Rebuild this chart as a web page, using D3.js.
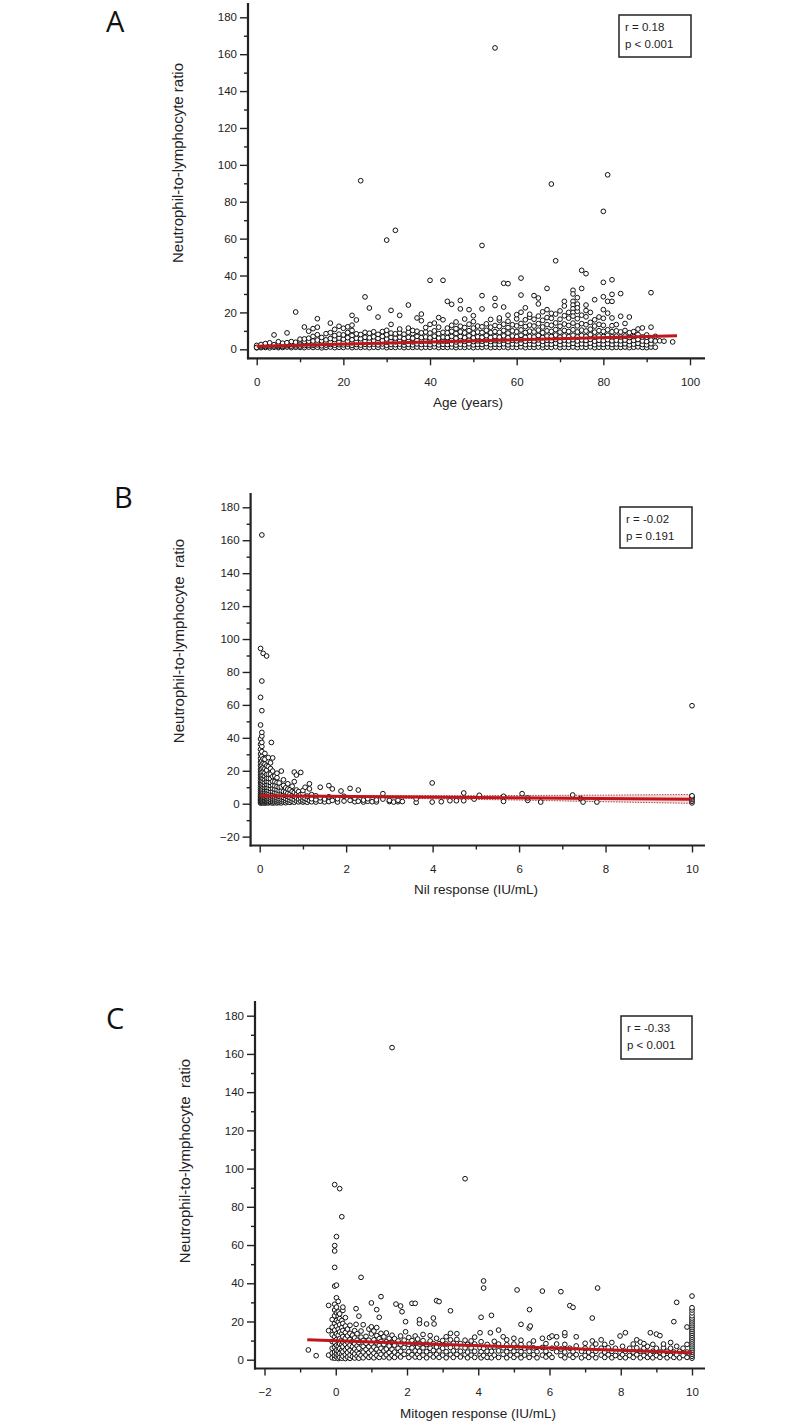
<!DOCTYPE html>
<html><head><meta charset="utf-8">
<script src="https://cdnjs.cloudflare.com/ajax/libs/d3/7.8.5/d3.min.js"></script>
<style>body{margin:0;background:#fff}svg{display:block}</style>
</head><body>
<svg id="chart" width="793" height="1425"></svg>
<script>
// ---------------- DATA ----------------
// Panel A: NLR values at each age (index = age in years)
const nlrByAge = [
[0.8,1.2,1.6,2.1,1.0],[0.9,1.4,2.0,2.6],[1.0,1.5,2.3,3.1],[0.8,1.7,2.4,3.5],[1.1,1.8,2.5,7.8],
[0.9,1.5,2.2,3.0,4.1],[1.0,1.6,2.4,3.3],[1.2,2.0,2.8,3.6,8.9],[0.9,1.7,2.6,3.4,4.2],[1.1,1.9,2.7,3.8,20.2],
[1.0,1.8,2.9,3.7,4.6,5.5],[0.9,2.0,3.1,4.2,5.6,12.1],[1.2,2.2,3.4,4.4,6.0,9.8],[1.0,2.1,3.0,4.5,7.0,11.2],[1.1,2.4,3.6,5.0,7.9,16.6,12.0],
[0.8,1.9,3.2,4.6,6.4],[1.0,2.3,3.5,5.1,8.5],[1.2,2.6,3.9,5.8,9.0,14.2],[0.9,2.2,3.7,5.3,7.4,10.8],[1.1,2.5,4.0,6.1,8.2,12.5],
[1.0,2.4,3.8,5.5,7.8,11.4],[1.3,2.8,4.3,6.3,9.1,12.2],[0.9,2.1,3.6,5.2,7.5,10.2,13.1,18.4],[1.1,2.6,4.1,6.0,8.4,15.9],[1.0,2.3,3.9,5.7,8.0,91.4],
[1.2,2.7,4.4,6.5,9.2,28.4],[0.9,2.5,4.2,6.2,8.7,22.4],[1.1,2.8,4.6,6.8,9.5],[1.0,2.4,4.0,5.9,8.1,17.5],[1.3,2.9,4.7,7.0,9.6],
[0.9,2.2,3.8,5.6,7.9,10.3,59.2],[1.1,2.6,4.3,6.4,8.8,21.1,13.5],[1.0,2.5,4.1,6.1,8.4,64.5],[1.2,2.8,4.5,6.6,9.0,18.4,11.0],[0.9,2.3,3.9,5.8,8.2],
[1.1,2.7,4.4,6.5,9.3,24.0,11.5],[1.0,2.4,4.0,6.0,8.6,10.2],[1.2,2.9,4.8,7.0,9.8,17.0],[0.9,2.6,4.3,6.3,8.9,19.1,15.5],[1.1,2.8,4.6,6.7,9.4,11.8],
[1.0,2.5,4.2,6.2,8.8,13.5,37.4],[1.3,3.0,4.9,7.1,10.0,14.2],[0.9,2.4,4.1,6.1,8.5,12.0,17.2],[1.1,2.7,4.5,6.6,9.2,37.4,16.0],[1.0,2.6,4.4,6.4,9.0,11.5,26.0],
[1.2,2.9,4.8,7.0,9.7,13.0,24.4],[0.9,2.3,4.0,6.0,8.6,11.2,14.8],[1.1,2.8,4.7,6.9,9.5,12.5,26.5,21.9],[1.0,2.5,4.3,6.3,8.9,11.8,16.4],[1.2,3.0,5.0,7.3,10.1,13.6,21.5],
[0.9,2.4,4.2,6.2,8.7,11.5,15.0,18.2],[1.1,2.7,4.6,6.8,9.4,12.6],[1.0,2.6,4.4,6.5,9.1,12.2,29.1,56.3,21.9],[1.3,3.1,5.1,7.4,10.3,13.8],[0.9,2.5,4.3,6.4,9.0,12.0,16.2],
[1.1,2.8,4.7,6.9,9.6,12.9,27.6,23.7,163.4],[1.0,2.6,4.5,6.6,9.2,12.4,15.8,17.0],[1.2,3.0,5.0,7.3,10.2,13.6,35.8,22.9],[0.9,2.4,4.2,6.3,8.8,11.8,15.2,35.6,18.5],[1.1,2.9,4.9,7.2,10.0,13.3],
[1.0,2.7,4.6,6.8,9.5,12.7,16.5,18.8],[1.3,3.2,5.2,7.6,10.5,14.0,38.6,29.4,20.1],[0.9,2.5,4.4,6.5,9.1,12.3,16.0,22.5],[1.1,2.8,4.8,7.0,9.8,13.1,17.4,19.0],[1.0,2.6,4.5,6.7,9.4,12.6,29.1,16.3],
[1.2,3.1,5.1,7.5,10.4,13.9,27.8,24.6,18.0],[0.9,2.4,4.3,6.4,9.0,12.1,15.7,20.3],[1.1,2.9,4.9,7.2,10.0,13.4,33.0,17.2,21.5],[1.0,2.7,4.7,6.9,9.7,13.0,89.6,16.8,19.5],[1.3,3.3,5.3,7.7,10.7,14.3,48.0,19.1],
[0.9,2.5,4.4,6.6,9.3,12.5,16.3,20.8],[1.1,2.9,5.0,7.3,10.2,13.7,26.0,23.5,18.2],[1.0,2.7,4.6,6.8,9.6,12.9,16.9,20.0],[1.2,3.2,5.2,7.6,10.6,14.2,32.0,30.0,26.0,24.0,22.0,20.0,18.0],[0.9,2.6,4.5,6.7,9.4,12.7,16.6,20.6,28.0,24.5,22.5],
[1.1,3.0,5.1,7.5,10.4,13.9,42.8,33.0,18.5],[1.0,2.8,4.8,7.0,9.9,13.3,41.0,24.0,21.0,17.6],[1.3,3.3,5.4,7.9,10.9,14.6,20.0],[0.9,2.5,4.4,6.6,9.3,12.6,26.9,16.0],[1.1,2.9,4.9,7.2,10.1,13.5,17.5],
[1.0,2.7,4.7,6.9,9.7,13.0,74.8,36.3,28.5,21.5,16.8],[1.2,3.1,5.2,7.6,10.6,94.6,26.0,19.6],[0.9,2.6,4.6,6.8,9.5,12.8,37.7,29.8,26.0,17.0],[1.1,2.9,4.9,7.1,10.0,13.4],[1.0,2.7,4.6,6.7,9.4,30.2,17.9],
[1.2,3.0,5.0,7.2,10.2,14.0],[0.9,2.4,4.3,6.4,9.0,17.5],[1.1,2.8,4.8,6.9,9.6],[1.3,3.2,5.3,8.0,11.0],[1.0,2.6,4.5,6.7,11.6],
[0.9,2.4,4.2,6.6,7.8],[1.2,3.0,5.0,12.0,30.7],[1.1,4.5,7.0],[4.6],[4.4],[],[4.0],[]
];
const ageFit = [[0, 1.6], [97, 7.3]];

// Panel B: [Nil response (IU/mL), NLR values]
const nilColumns = [
[0.02,[0.4,1.0,1.8,2.6,3.4,4.3,5.2,6.1,7.3,8.5,9.8,11.2,12.6,14.1,15.7,17.4,19.2,21.0,23.1,25.3,27.6,30.2,33.0,36.1,39.3,47.8,64.6,94.3]],
[0.05,[0.6,1.3,2.1,3.0,3.9,4.8,5.9,7.0,8.2,9.6,11.0,12.5,14.0,15.6,17.3,19.1,21.2,23.5,26.0,28.8,31.6,34.8,37.2,41.1,43.3,56.5,74.5,163.2]],
[0.08,[0.5,1.2,2.0,2.9,3.8,4.9,6.0,7.2,8.6,10.1,11.7,13.4,15.2,17.2,19.4,21.8,24.5,27.3,91.3]],
[0.12,[0.4,1.1,1.9,2.8,3.7,4.7,5.8,7.0,8.3,9.7,11.2,12.9,14.7,16.6,18.8,21.3,24.0,27.0,30.5]],
[0.16,[0.6,1.4,2.3,3.3,4.4,5.6,6.9,8.3,9.9,11.6,13.5,15.5,17.8,20.4,23.0,89.7]],
[0.2,[0.5,1.2,2.1,3.1,4.2,5.4,6.7,8.1,9.7,11.4,13.3,15.4,17.9,22.5,28.0]],
[0.25,[0.7,1.5,2.5,3.6,4.8,6.1,7.6,9.2,11.0,12.9,15.2,18.0,21.3,24.8]],
[0.27,[37.2]],
[0.3,[0.4,1.2,2.2,3.3,4.5,5.9,7.5,9.3,11.3,13.6,16.5,19.8,27.8]],
[0.35,[0.6,1.6,2.7,4.0,5.4,7.0,8.8,10.9,13.4,16.8]],
[0.4,[0.5,1.3,2.4,3.6,5.0,6.6,8.4,10.5,12.9,15.8,18.5]],
[0.45,[0.7,1.8,3.0,4.4,6.0,7.9,10.1,12.6]],
[0.5,[0.5,1.5,2.7,4.1,5.8,7.8,10.2,19.8]],
[0.55,[1.0,2.3,3.8,5.5,7.5,11.0,14.5]],
[0.6,[0.6,1.8,3.2,5.0,7.1,9.6]],
[0.65,[1.2,2.6,4.3,6.4,8.9,12.1]],
[0.7,[0.8,2.1,3.7,5.8,8.5]],
[0.75,[1.4,3.0,5.0,7.4,10.6]],
[0.8,[0.9,2.4,4.4,6.8,13.4,19.2]],
[0.85,[1.6,3.5,5.8,8.3,17.4]],
[0.9,[1.1,2.8,4.9,7.3]],
[0.95,[1.5,3.4,5.6,19.0]],
[1.0,[1.0,2.2,4.0,6.2,8.0]],
[1.05,[1.4,3.2,10.0]],
[1.1,[0.9,2.6,4.6]],
[1.15,[1.8,9.0,12.1]],
[1.2,[1.2,3.0,5.5]],
[1.3,[1.0,2.4,4.8]],
[1.4,[1.5,3.6,10.0]],
[1.5,[1.1,2.8]],
[1.6,[1.3,4.2,11.0]],
[1.68,[2.0,9.0]],
[1.8,[1.0,3.0]],
[1.88,[7.7]],
[1.95,[1.6,4.5]],
[2.09,[2.0,9.3]],
[2.2,[1.2,3.4]],
[2.28,[1.5,8.3]],
[2.4,[1.0,2.2]],
[2.5,[1.5,3.0]],
[2.6,[1.2]],
[2.7,[1.1,2.3]],
[2.85,[2.8,6.1]],
[3.0,[1.3,2.0]],
[3.1,[1.0]],
[3.2,[1.2,2.1]],
[3.3,[1.3]],
[3.62,[0.8,3.0]],
[3.99,[1.0,12.6]],
[4.2,[1.2]],
[4.4,[1.8]],
[4.55,[1.8]],
[4.72,[1.8,6.5]],
[4.96,[2.8]],
[5.08,[5.1]],
[5.64,[1.4,4.5]],
[6.07,[6.1]],
[6.2,[2.0,3.5]],
[6.5,[1.0]],
[7.24,[5.3]],
[7.42,[3.2]],
[7.48,[1.0]],
[7.8,[1.0]],
[10,[0.5,1.5,2.5,3.5,4.3,4.8,59.5]]
];
const nilFit = [[0, 4.85], [10, 2.7]];
const nilCiX = [0, 1, 2, 3, 4, 5, 6, 7, 8, 9, 10];
const nilCiLow = [4.4, 4.1, 3.8, 3.4, 3.0, 2.6, 2.2, 1.7, 1.2, 0.7, 0.2];
const nilCiHigh = [5.3, 5.1, 5.0, 4.9, 4.9, 4.9, 5.0, 5.1, 5.2, 5.4, 5.6];

// Panel C: [Mitogen response (IU/mL), NLR values]
const mitogenColumns = [
[-0.77,[5.1]],[-0.55,[2.1]],[-0.2,[2.4,15.2,28.4]],
[-0.1,[1.0,3.5,6.0,9.5,13.0,17.0,21.0]],
[-0.03,[0.8,2.2,4.0,6.5,9.0,12.0,15.5,19.0,23.0,26.0,29.0,38.5,48.3,56.9,59.7,91.6]],
[0.02,[1.5,3.0,5.0,7.5,10.5,13.5,17.5,20.5,24.5,27.5,32.4,39.0,64.4]],
[0.07,[0.6,2.5,4.5,7.0,9.8,12.8,16.0,19.8,22.8,25.0,30.5]],
[0.11,[1.2,3.3,5.8,8.3,11.0,14.5,18.3,21.5,24.0,89.5]],
[0.17,[0.8,2.8,5.0,7.8,10.4,13.6,16.8,20.5,74.8]],
[0.2,[1.8,4.2,6.8,9.3,12.1,15.3,19.0,25.8,27.5]],
[0.27,[0.6,2.6,5.2,8.0,11.2,14.2,17.6,22.0]],
[0.33,[1.4,3.8,6.4,9.2,12.5,16.0]],
[0.4,[0.7,2.4,4.9,7.6,10.6,13.8,18.0]],
[0.47,[1.6,4.0,6.8,9.6,12.8]],
[0.53,[0.9,3.0,5.6,8.4,11.4,15.2]],
[0.57,[18.5,26.7]],
[0.6,[1.8,4.5,7.2,10.2,13.6]],
[0.65,[0.8,3.2,6.0,9.0,22.8]],
[0.71,[2.2,11.8,15.0,43.1]],
[0.77,[1.0,4.0,7.0,10.0,18.3]],
[0.85,[2.4,5.4,8.6,12.2]],
[0.93,[1.2,3.8,6.8,10.2,16.0]],
[1.0,[2.0,5.0,8.4,13.5,17.2,29.7]],
[1.07,[1.0,3.4,6.6,10.4,15.0]],
[1.15,[2.2,5.4,8.8,12.6,16.8,26.2]],
[1.22,[1.2,4.0,7.4,11.0,22.2]],
[1.27,[2.8,6.0,9.6,13.8,33.0]],
[1.35,[1.4,4.6,8.0,12.0]],
[1.42,[2.6,5.6,9.4,14.0]],
[1.5,[1.0,3.8,7.2,11.2]],
[1.58,[2.2,5.4,9.0,12.8,163.3]],
[1.65,[1.2,4.0,7.6,11.0]],
[1.69,[29.1]],
[1.75,[2.6,6.0,9.8]],
[1.82,[1.4,4.4,8.0,12.4,28.1]],
[1.86,[25.1]],
[1.92,[2.8,6.4,10.2]],
[1.96,[14.6,19.9]],
[2.05,[1.2,4.2,8.0,11.6]],
[2.14,[2.6,6.2,10.0,29.5]],
[2.23,[1.4,4.6,8.6,12.4,29.5]],
[2.3,[2.8,6.6,10.8]],
[2.35,[1.2,4.4,8.2,19.0,20.9]],
[2.45,[2.4,6.2,10.0,13.2]],
[2.55,[1.0,4.2,8.0,18.7]],
[2.65,[2.6,6.0,9.8,12.6]],
[2.74,[1.4,4.8,8.4,21.8]],
[2.76,[18.7]],
[2.83,[2.8,6.6,11.2,30.9]],
[2.9,[1.2,4.6,8.4,30.4]],
[3.0,[2.4,6.0,10.0]],
[3.1,[1.0,4.2,8.2,12.0]],
[3.22,[2.6,6.4,10.4,13.8,25.6]],
[3.3,[1.2,4.6,8.6]],
[3.4,[2.8,6.6,10.6,13.6]],
[3.5,[1.4,4.4,8.4]],
[3.63,[2.6,6.2,10.2,94.7]],
[3.7,[1.0,4.0,8.0]],
[3.8,[2.4,6.2,9.8]],
[3.9,[1.2,4.4,8.2,11.8]],
[4.05,[2.6,6.2,14.1]],
[4.08,[1.0,4.2,9.4,22.2]],
[4.15,[2.2,6.0,37.5,41.2]],
[4.25,[1.2,4.4,8.0]],
[4.34,[2.8,6.4,14.1]],
[4.37,[1.0,4.4,23.2]],
[4.45,[2.4,6.6,9.6]],
[4.57,[1.2,4.6,8.2,15.5]],
[4.7,[2.8,6.2,12.0]],
[4.8,[1.0,4.2,7.8,10.4]],
[4.9,[2.4,6.0]],
[5.0,[1.2,4.4,8.2,11.2]],
[5.09,[2.6,6.4,36.5]],
[5.2,[1.0,4.2,8.0,10.2,18.5]],
[5.3,[2.4,6.0]],
[5.43,[1.2,4.4,8.2,16.6]],
[5.44,[26.2]],
[5.46,[17.6]],
[5.55,[2.6,6.2,9.8]],
[5.65,[1.0,4.2]],
[5.8,[2.4,6.4,11.2,35.9]],
[5.9,[1.4,4.4,8.4]],
[6.0,[2.6,11.6]],
[6.07,[1.2,6.0,12.4]],
[6.2,[4.2,8.2,12.0]],
[6.32,[2.2,5.6,35.6]],
[6.43,[1.0,4.0,8.0,12.7,14.1]],
[6.57,[2.4,6.0,28.3]],
[6.66,[1.2,4.2,27.4]],
[6.75,[2.6,7.2,12.0]],
[6.9,[1.0,4.4]],
[7.0,[2.2,6.0,8.6]],
[7.1,[1.2,4.0]],
[7.2,[2.6,6.6,9.8,21.8]],
[7.3,[1.0,4.4,8.2]],
[7.35,[37.5]],
[7.45,[2.4,6.0,10.4]],
[7.55,[1.2,4.0,8.0]],
[7.65,[2.6,6.2]],
[7.75,[1.0,4.4,9.0]],
[7.85,[2.2,6.0]],
[7.98,[1.2,4.0,12.4]],
[8.05,[2.6,7.0]],
[8.13,[1.0,4.4,14.1]],
[8.25,[2.2,6.0]],
[8.35,[1.2,4.0,8.2]],
[8.45,[2.6,6.2,10.4]],
[8.55,[1.0,4.4,9.2]],
[8.65,[2.2,6.0,8.4]],
[8.75,[1.2,4.0,7.0]],
[8.83,[2.6,14.1]],
[8.9,[1.0,4.4,8.0]],
[9.0,[2.2,6.0,13.4]],
[9.1,[1.2,4.0,12.6]],
[9.2,[2.6,6.2,8.2]],
[9.3,[1.0,4.4]],
[9.4,[2.2,6.0,9.0]],
[9.49,[1.2,4.0,19.9]],
[9.57,[2.6,7.0,30.0]],
[9.65,[1.0,4.4]],
[9.75,[2.2,6.0]],
[9.86,[1.2,4.0,8.0,17.1]],
[10,[0.8,1.8,2.8,3.8,4.8,5.8,6.8,7.8,8.8,9.8,10.8,11.8,12.8,13.8,14.8,15.8,16.8,17.8,18.8,19.8,20.8,21.8,23.0,24.5,26.0,27.2,33.3]]
];
const mitogenFit = [[-0.8, 10.4], [10, 3.6]];

// Tick labels
const ageTicks = [0, 20, 40, 60, 80, 100];
const nilTicks = [0, 2, 4, 6, 8, 10];
const mitogenTicks = [-2, 0, 2, 4, 6, 8, 10];
const yTicksA = [0, 20, 40, 60, 80, 100, 120, 140, 160, 180];
const yTicksB = [-20, 0, 20, 40, 60, 80, 100, 120, 140, 160, 180];
const yTicksC = [0, 20, 40, 60, 80, 100, 120, 140, 160, 180];
const statsA = ["r = 0.18", "p < 0.001"];
const statsB = ["r = -0.02", "p = 0.191"];
const statsC = ["r = -0.33", "p < 0.001"];

// ---------------- LAYOUT / DRAW ----------------
const svg = d3.select("#chart");
const RED = "#c0151b";
const FONT = "Liberation Sans, Arial, Helvetica, sans-serif";

function toPoints(cols) {
  const pts = [];
  cols.forEach(([x, ys]) => ys.forEach(y => pts.push([x, y])));
  return pts;
}

const panels = [
  {letter: "A", letterPos: [106, 32],
   points: nlrByAge.flatMap((ys, age) => ys.map(y => [age, y])),
   fit: ageFit, ci: null,
   xDomain: [0, 100], xRange: [256.7, 690], yDomain: [0, 180], yRange: [349.3, 17.3],
   xTicks: ageTicks, xMinor: d3.range(10, 100, 20), yTicks: yTicksA, yMinor: d3.range(10, 180, 20),
   axisX: 248, axisTop: 3, axisY: 358.3, axisRight: 705,
   xTitle: "Age (years)", xTitlePos: [468, 407], yTitle: "Neutrophil-to-lymphocyte ratio", yTitlePos: [179, 163],
   tickLabelY: 386, stats: statsA, box: [619, 15, 72, 42]},
  {letter: "B", letterPos: [114, 507.5],
   points: toPoints(nilColumns),
   fit: nilFit, ci: true,
   xDomain: [0, 10], xRange: [259.7, 692], yDomain: [0, 180], yRange: [803.7, 507.3],
   xTicks: nilTicks, xMinor: d3.range(1, 10, 2), yTicks: yTicksB, yMinor: d3.range(-10, 180, 20),
   axisX: 250.6, axisTop: 493, axisY: 845.5, axisRight: 705,
   xTitle: "Nil response (IU/mL)", xTitlePos: [476, 894], yTitle: "Neutrophil-to-lymphocyte  ratio", yTitlePos: [180, 641],
   tickLabelY: 872.5, stats: statsB, box: [620, 507, 72, 41]},
  {letter: "C", letterPos: [106, 1028.5],
   points: toPoints(mitogenColumns),
   fit: mitogenFit, ci: null,
   xDomain: [-2, 10], xRange: [264.5, 692], yDomain: [0, 180], yRange: [1359.7, 1015.7],
   xTicks: mitogenTicks, xMinor: d3.range(-1, 10, 2), yTicks: yTicksC, yMinor: d3.range(10, 180, 20),
   axisX: 255, axisTop: 1001, axisY: 1368.5, axisRight: 705,
   xTitle: "Mitogen response (IU/mL)", xTitlePos: [478, 1418], yTitle: "Neutrophil-to-lymphocyte  ratio", yTitlePos: [186, 1161],
   tickLabelY: 1396, stats: statsC, box: [621, 1016, 71, 43]}
];

panels.forEach(p => {
  const g = svg.append("g");
  const x = d3.scaleLinear().domain(p.xDomain).range(p.xRange);
  const y = d3.scaleLinear().domain(p.yDomain).range(p.yRange);

  // panel letter
  g.append("text").attr("x", p.letterPos[0]).attr("y", p.letterPos[1])
    .attr("font-family", "Open Sans, Noto Sans, sans-serif").attr("font-size", 29)
    .attr("fill", "#111").text(p.letter);

  // CI band (panel B)
  if (p.ci) {
    const band = nilCiX.map((v, i) => [v, nilCiLow[i], nilCiHigh[i]]);
    g.append("path").datum(band)
      .attr("d", d3.area().x(d => x(d[0])).y0(d => y(d[1])).y1(d => y(d[2])).curve(d3.curveMonotoneX))
      .attr("fill", "#f3c9c9").attr("opacity", 0.7);
    [1, 2].forEach(k => {
      g.append("path").datum(band)
        .attr("d", d3.line().x(d => x(d[0])).y(d => y(d[k])).curve(d3.curveMonotoneX))
        .attr("fill", "none").attr("stroke", "#8a1a1a").attr("stroke-width", 0.8)
        .attr("stroke-dasharray", "1.5,1.2");
    });
  }

  // points
  g.append("g").selectAll("circle").data(p.points).join("circle")
    .attr("cx", d => x(d[0])).attr("cy", d => y(d[1])).attr("r", 2.35)
    .attr("fill", "#fff").attr("stroke", "#111").attr("stroke-width", 1);

  // regression line
  g.append("path").datum(p.fit)
    .attr("d", d3.line().x(d => x(d[0])).y(d => y(d[1])))
    .attr("fill", "none").attr("stroke", RED).attr("stroke-width", 3);

  // axes: major and minor ticks via d3 axis generators
  const yAxisMajor = d3.axisLeft(y).tickValues(p.yTicks).tickSize(8).tickPadding(3).tickFormat(d3.format("d"));
  const yAxisMinor = d3.axisLeft(y).tickValues(p.yMinor).tickSize(4).tickFormat("");
  const xAxisMajor = d3.axisBottom(x).tickValues(p.xTicks).tickSize(7).tickFormat(d3.format("d"));
  const xAxisMinor = d3.axisBottom(x).tickValues(p.xMinor).tickSize(4).tickFormat("");

  const ya = g.append("g").attr("transform", `translate(${p.axisX},0)`).call(yAxisMajor);
  const ym = g.append("g").attr("transform", `translate(${p.axisX},0)`).call(yAxisMinor);
  const xa = g.append("g").attr("transform", `translate(0,${p.axisY})`).call(xAxisMajor);
  const xm = g.append("g").attr("transform", `translate(0,${p.axisY})`).call(xAxisMinor);
  [ya, ym, xa, xm].forEach(a => {
    a.select(".domain").remove();
    a.selectAll(".tick line").attr("stroke", "#222").attr("stroke-width", 1.4);
    a.selectAll(".tick text").attr("font-family", FONT).attr("font-size", 11.5).attr("fill", "#222");
  });
  xa.selectAll(".tick text").attr("y", null).attr("dy", null)
    .attr("transform", null).attr("y", p.tickLabelY - p.axisY);

  // axis lines
  g.append("line").attr("x1", p.axisX).attr("x2", p.axisX).attr("y1", p.axisTop).attr("y2", p.axisY + 1)
    .attr("stroke", "#222").attr("stroke-width", 2.2);
  g.append("line").attr("x1", p.axisX - 1).attr("x2", p.axisRight).attr("y1", p.axisY).attr("y2", p.axisY)
    .attr("stroke", "#222").attr("stroke-width", 2.2);

  // axis titles
  g.append("text").attr("x", p.xTitlePos[0]).attr("y", p.xTitlePos[1])
    .attr("text-anchor", "middle").attr("font-family", FONT).attr("font-size", 13.5).attr("fill", "#222")
    .style("white-space", "pre").text(p.xTitle);
  g.append("text").attr("transform", `translate(${p.yTitlePos[0]},${p.yTitlePos[1]}) rotate(-90)`)
    .attr("text-anchor", "middle").attr("dominant-baseline", "middle")
    .attr("font-family", FONT).attr("font-size", 15).attr("fill", "#222")
    .style("white-space", "pre").text(p.yTitle);

  // stats box
  const [bx, by, bw, bh] = p.box;
  g.append("rect").attr("x", bx).attr("y", by).attr("width", bw).attr("height", bh)
    .attr("fill", "#fff").attr("stroke", "#222").attr("stroke-width", 1.5);
  p.stats.forEach((s, i) => {
    g.append("text").attr("x", bx + 6).attr("y", by + 16 + i * 17)
      .attr("font-family", FONT).attr("font-size", 11.5).attr("fill", "#222").text(s);
  });
});
</script>
</body></html>
